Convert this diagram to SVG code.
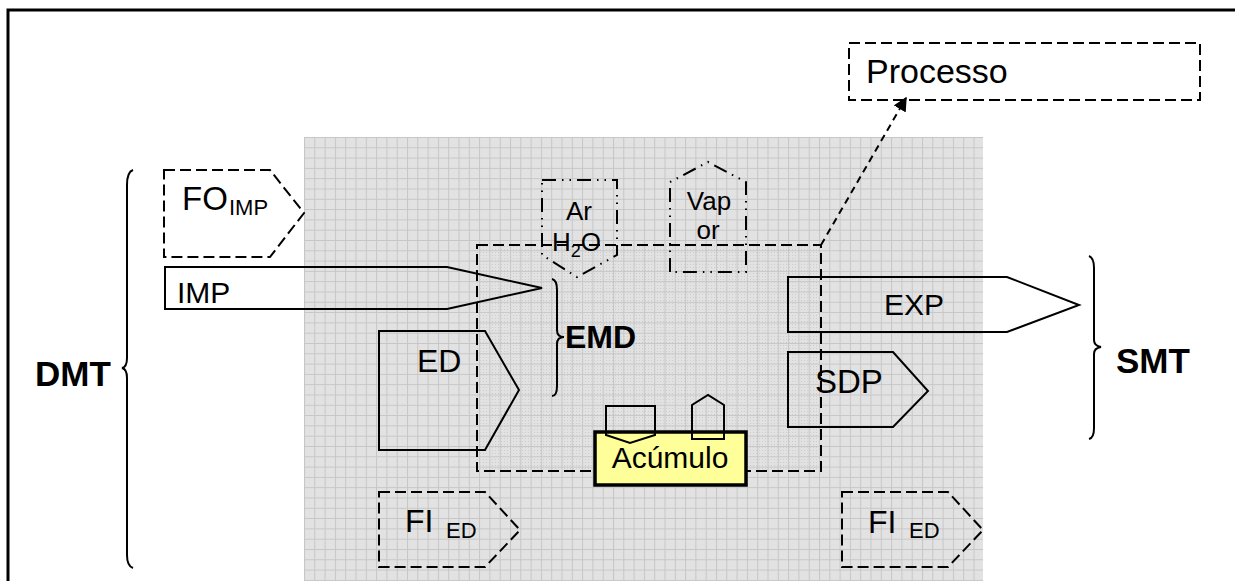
<svg xmlns="http://www.w3.org/2000/svg" width="1235" height="581" viewBox="0 0 1235 581">
<defs>
<pattern id="grid" x="304" y="137" width="10.3" height="10.3" patternUnits="userSpaceOnUse">
<rect width="10.3" height="10.3" fill="#e2e2e2"/>
<path d="M0 0.5H10.3M0.5 0V10.3" stroke="#c6c6c6" stroke-width="1" fill="none"/>
</pattern>
<pattern id="dots" x="0" y="0" width="3" height="3" patternUnits="userSpaceOnUse">
<rect width="1" height="1" fill="#cdcdcd"/>
</pattern>
<marker id="arr" viewBox="0 0 10 10" refX="9" refY="5" markerWidth="7" markerHeight="7" orient="auto" markerUnits="strokeWidth">
<path d="M0 0L10 5L0 10z" fill="#000"/>
</marker>
<style>
text{font-family:"Liberation Sans",Arial,sans-serif;fill:#000}
.b{font-weight:bold}
.solid{fill:none;stroke:#000;stroke-width:2}
.dash{fill:none;stroke:#000;stroke-width:2;stroke-dasharray:11 5}
.ddot{fill:none;stroke:#000;stroke-width:2;stroke-dasharray:14 6 1.5 6 1.5 6}
.brace{fill:none;stroke:#000;stroke-width:2}
</style>
</defs>
<rect width="1235" height="581" fill="#fff"/>
<path d="M8 581V10H1235" fill="none" stroke="#000" stroke-width="3"/>
<rect id="grid-area" x="304" y="137" width="679" height="444" fill="url(#grid)"/>
<rect x="477" y="245" width="344" height="226" fill="url(#dots)"/>

<g id="processo">
<rect x="849" y="43" width="351" height="57" class="dash"/>
<text x="866" y="83" font-size="34">Processo</text>
</g>

<g id="emd-region">
<rect x="477" y="245" width="344" height="226" class="dash"/>
</g>

<g id="fo-imp">
<polygon points="164,170 270,170 304,213 270,257 164,257" class="dash"/>
<text x="182" y="210" font-size="33">FO<tspan x="229" y="215" font-size="22">IMP</tspan></text>
</g>

<g id="imp">
<polygon points="165,267 447,267 542,288 447,309 165,309" class="solid"/>
<text x="177" y="303" font-size="30">IMP</text>
</g>

<g id="ar-h2o">
<polygon points="542,180 617,180 617,255 577,277 542,255" class="ddot"/>
<text x="579" y="220" font-size="26" text-anchor="middle">Ar</text>
<text x="552" y="251" font-size="26">H<tspan font-size="18" y="257">2</tspan><tspan y="251">O</tspan></text>
</g>

<g id="vapor">
<polygon points="670,272 670,182 708,162 746,182 746,272" class="ddot"/>
<text x="709" y="210" font-size="26" text-anchor="middle">Vap</text>
<text x="708" y="239" font-size="26" text-anchor="middle">or</text>
</g>

<g id="ed">
<polygon points="379,331 485,331 519,390 485,450 379,450" class="solid"/>
<text x="417" y="372" font-size="32">ED</text>
</g>

<g id="emd">
<path d="M552,279 Q557,280 557,290 L557,330 Q557,337 564,337 Q557,337 557,344 L557,386 Q557,396 552,396" class="brace"/>
<text x="565" y="348" font-size="32" class="b">EMD</text>
</g>

<g id="exp">
<polygon points="788,277 1007,277 1079,305 1007,332 788,332" class="solid"/>
<text x="884" y="315" font-size="30">EXP</text>
</g>

<g id="sdp">
<polygon points="788,352 893,352 928,391 893,427 788,427" class="solid"/>
<text x="815" y="393" font-size="33">SDP</text>
</g>

<g id="acumulo">
<rect x="595" y="432" width="151" height="53" fill="#ffff99" stroke="#000" stroke-width="3.5"/>
<text x="670" y="468" font-size="30" text-anchor="middle">Acúmulo</text>
<polygon points="606,406 655,406 655,435 630,443 606,435" class="solid" stroke-width="1.6"/>
<polygon points="692,439 692,405 708,395 724,405 724,439" class="solid" stroke-width="1.6"/>
</g>

<g id="fi-ed-left">
<polygon points="379,492 485,492 520,530 485,567 379,567" class="dash"/>
<text x="405" y="532" font-size="32">FI<tspan x="446" y="538" font-size="22">ED</tspan></text>
</g>

<g id="fi-ed-right">
<polygon points="842,492 948,492 983,530 948,567 842,567" class="dash"/>
<text x="868" y="533" font-size="32">FI<tspan x="909" y="538" font-size="22">ED</tspan></text>
</g>

<g id="dmt">
<path d="M133,170 Q127,172 127,185 L127,358 Q127,367 122,368 Q127,369 127,378 L127,555 Q127,566 133,568" class="brace"/>
<text x="35" y="386" font-size="35" class="b">DMT</text>
</g>

<g id="smt">
<path d="M1089,256 Q1094,258 1094,268 L1094,340 Q1094,346 1101,347 Q1094,348 1094,354 L1094,428 Q1094,438 1089,439" class="brace"/>
<text x="1116" y="373" font-size="35" class="b">SMT</text>
</g>

<g id="connectors">
<line x1="821" y1="245" x2="906" y2="98" stroke="#000" stroke-width="2" stroke-dasharray="7 5" marker-end="url(#arr)"/>
</g>
</svg>
